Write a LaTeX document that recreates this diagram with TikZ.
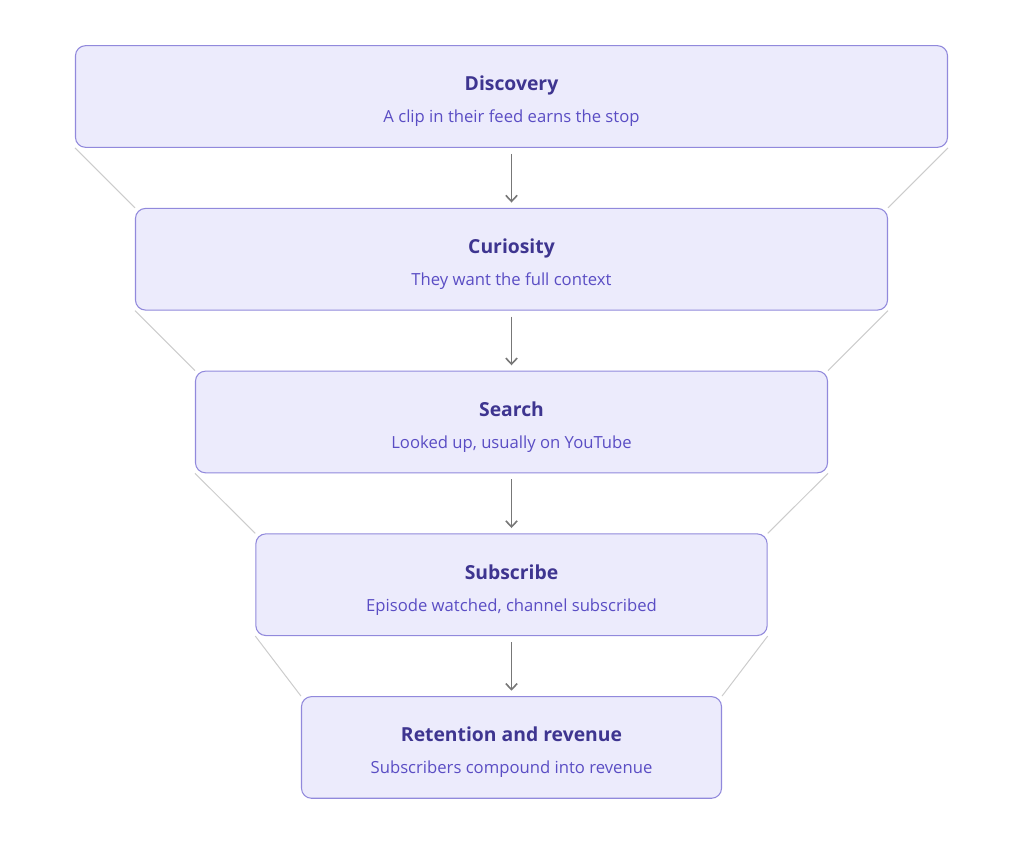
\documentclass[tikz,border=0pt]{standalone}
\usepackage{fontspec}
\setmainfont{Open Sans}
\usetikzlibrary{arrows.meta,positioning}

\definecolor{stagefill}{HTML}{ECEBFC}
\definecolor{stageline}{HTML}{9189DC}
\definecolor{titlecol}{HTML}{3E3590}
\definecolor{subcol}{HTML}{5A4DC4}
\definecolor{arrowcol}{HTML}{777777}
\definecolor{funnelcol}{HTML}{CCCCCC}

\newcommand{\stagetitle}[1]{\rule{0pt}{18.5pt}\textcolor{titlecol}{\fontsize{14.5}{17}\selectfont\bfseries #1}}

\begin{document}
\begin{tikzpicture}[
    x=0.75pt, y=-0.75pt,
    node distance=45pt,
    stage/.style={rectangle, draw=stageline, line width=0.8pt, fill=stagefill, rounded corners=7.5pt, minimum height=76.25pt, align=center, text=subcol, font=\fontsize{12.5}{15}\selectfont},
    arrow/.style={-{Straight Barb[length=4.5pt,width=8.5pt]}, draw=arrowcol, line width=1.2pt, shorten <=4.5pt, shorten >=4pt},
    funnel/.style={draw=funnelcol, line width=0.75pt}
]
\useasboundingbox (0,0) rectangle (1024,858);

% Stages
\node[stage, minimum width=654pt] (disc) at (511.5,96.5) {\stagetitle{Discovery}\\[9pt] A clip in their feed earns the stop};
\node[stage, minimum width=564pt] (curi) [below=of disc] {\stagetitle{Curiosity}\\[9pt] They want the full context};
\node[stage, minimum width=474pt] (srch) [below=of curi] {\stagetitle{Search}\\[9pt] Looked up, usually on YouTube};
\node[stage, minimum width=383.5pt] (subs) [below=of srch] {\stagetitle{Subscribe}\\[9pt] Episode watched, channel subscribed};
\node[stage, minimum width=315pt] (reten) [below=of subs] {\stagetitle{Retention and revenue}\\[9pt] Subscribers compound into revenue};

% Funnel edges
\foreach \i/\j in {disc/curi, curi/srch, srch/subs, subs/reten} {
    \draw[funnel] (\i.south west) -- (\j.north west);
    \draw[funnel] (\i.south east) -- (\j.north east);
}

% Arrows
\foreach \i/\j in {disc/curi, curi/srch, srch/subs, subs/reten} {
    \draw[arrow] (\i) -- (\j);
}

\end{tikzpicture}
\end{document}
